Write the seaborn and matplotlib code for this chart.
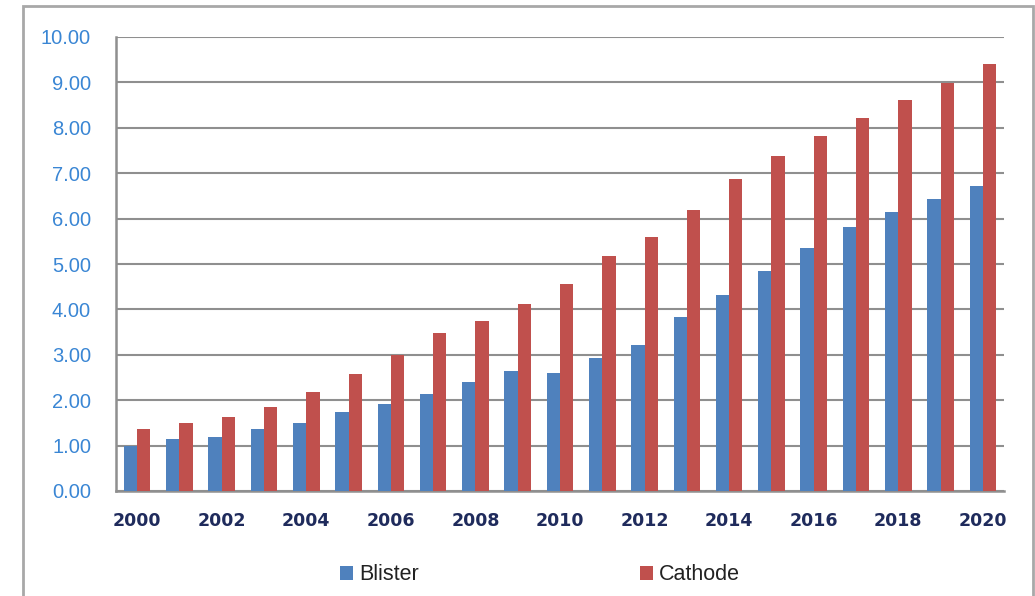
import matplotlib
matplotlib.use("Agg")
import matplotlib.pyplot as plt
from matplotlib.patches import Rectangle, Patch
from matplotlib.ticker import FixedLocator, FormatStrFormatter
import seaborn as sns
import pandas as pd

years = list(range(2000, 2021))
blister = [0.99, 1.15, 1.19, 1.36, 1.50, 1.74, 1.91, 2.13, 2.40, 2.64, 2.61,
           2.94, 3.21, 3.84, 4.32, 4.84, 5.36, 5.81, 6.15, 6.43, 6.71]
cathode = [1.36, 1.50, 1.64, 1.85, 2.19, 2.58, 2.99, 3.47, 3.75, 4.12, 4.57,
           5.18, 5.60, 6.19, 6.87, 7.37, 7.82, 8.21, 8.62, 8.99, 9.41]
series_names = ["Blister", "Cathode"]
colors = ["#4F81BD", "#C0504D"]

df = pd.DataFrame({
    "year": [str(y) for y in years] * 2,
    "value": blister + cathode,
    "series": [series_names[0]] * len(years) + [series_names[1]] * len(years),
})

sns.set_style("white")
plt.rcParams["font.family"] = ["Liberation Sans", "DejaVu Sans"]

W, H = 1035, 596
fig = plt.figure(figsize=(W / 100, H / 100), dpi=100)
ax = fig.add_axes([116 / W, 1 - 491 / H, (1004 - 116) / W, (491 - 37) / H])

sns.barplot(data=df, x="year", y="value", hue="series", palette=colors,
            width=0.63, saturation=1, ax=ax, legend=False, zorder=3,
            edgecolor="none", linewidth=0)

grid_c = "#8F8F8F"
ax.set_ylim(0, 10)
ax.set_xlim(-0.5, len(years) - 0.5)
ax.set_yticks(range(0, 11))
ax.yaxis.set_major_formatter(FormatStrFormatter("%.2f"))
ax.grid(axis="y", color=grid_c, linewidth=1.5, zorder=0)
ax.set_axisbelow(True)

ax.set_xticks(range(0, len(years), 2))
ax.set_xticklabels([str(y) for y in years[::2]])
ax.xaxis.set_minor_locator(FixedLocator([i - 0.5 for i in range(len(years) + 1)]))
ax.tick_params(axis="x", which="major", length=0, pad=15, labelsize=12.5,
               labelcolor="#1F2B5C")
for lab in ax.get_xticklabels():
    lab.set_fontweight("bold")
    lab.set_family(["DejaVu Sans"])
ax.tick_params(axis="x", which="minor", length=6, width=1.6, color=grid_c,
               direction="out")
ax.tick_params(axis="y", which="major", length=7, width=1.6, color=grid_c,
               direction="out", pad=11, labelsize=14.5, labelcolor="#3A86D4")
ax.set_xlabel("")
ax.set_ylabel("")

for s in ["top", "right"]:
    ax.spines[s].set_visible(False)
for s in ["left", "bottom"]:
    ax.spines[s].set_color(grid_c)
    ax.spines[s].set_linewidth(1.8)

# outer frame
fig.patches.append(Rectangle((23 / W, -0.05), (1033 - 23) / W, 1 - 6 / H + 0.05,
                             transform=fig.transFigure, fill=False,
                             edgecolor="#A8A8A8", linewidth=2))

handles = [Patch(facecolor=c, edgecolor="none") for c in colors]
fig.legend(handles, series_names, loc="center", ncol=2,
           bbox_to_anchor=(540 / W, 1 - 575 / H), frameon=False,
           handlelength=0.6, handleheight=0.6, handletextpad=0.25,
           columnspacing=10.3, fontsize=15.5, labelcolor="#222222")

fig.savefig("out.png", dpi=100)
